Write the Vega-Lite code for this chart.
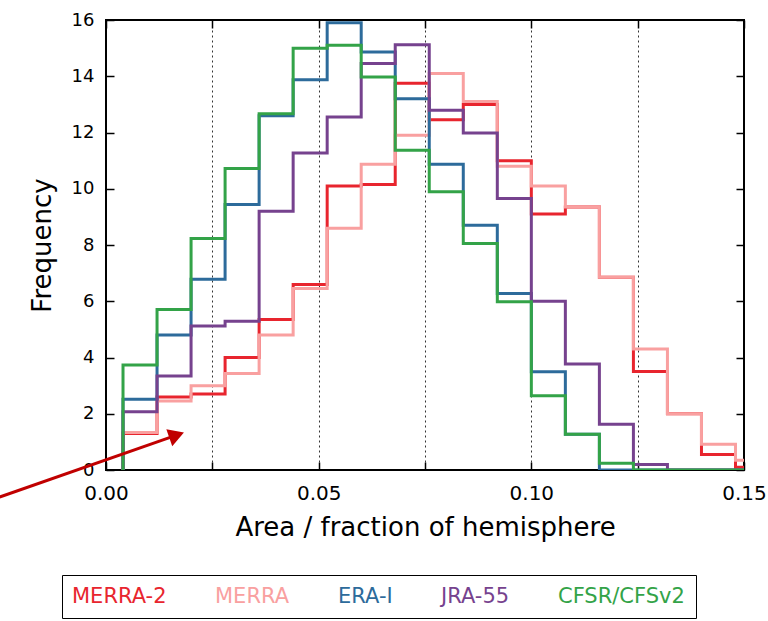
{
  "$schema": "https://vega.github.io/schema/vega-lite/v6.json",
  "autosize": "none",
  "width": 638,
  "height": 450,
  "padding": {"left": 106, "top": 20, "right": 24, "bottom": 151},
  "background": "white",
  "config": {
    "view": {"stroke": "black", "strokeWidth": 2},
    "font": "DejaVu Sans",
    "axis": {"domain": false, "tickColor": "black", "tickWidth": 1.5, "labelColor": "black", "titleColor": "black", "labelFont": "DejaVu Sans", "titleFont": "DejaVu Sans", "titleFontWeight": "normal"}
  },
  "datasets": {
    "hist": [
      {"s":"MERRA-2","k":0,"x":0.004,"y":0},{"s":"MERRA-2","k":1,"x":0.004,"y":1.3},{"s":"MERRA-2","k":2,"x":0.012,"y":2.6},{"s":"MERRA-2","k":3,"x":0.02,"y":2.7},{"s":"MERRA-2","k":4,"x":0.028,"y":4.0},{"s":"MERRA-2","k":5,"x":0.036,"y":5.35},{"s":"MERRA-2","k":6,"x":0.044,"y":6.6},{"s":"MERRA-2","k":7,"x":0.052,"y":10.1},{"s":"MERRA-2","k":8,"x":0.06,"y":10.15},{"s":"MERRA-2","k":9,"x":0.068,"y":13.75},{"s":"MERRA-2","k":10,"x":0.076,"y":12.45},{"s":"MERRA-2","k":11,"x":0.084,"y":13.0},{"s":"MERRA-2","k":12,"x":0.092,"y":11.0},{"s":"MERRA-2","k":13,"x":0.1,"y":9.1},{"s":"MERRA-2","k":14,"x":0.108,"y":9.35},{"s":"MERRA-2","k":15,"x":0.116,"y":6.85},{"s":"MERRA-2","k":16,"x":0.124,"y":3.5},{"s":"MERRA-2","k":17,"x":0.132,"y":2.0},{"s":"MERRA-2","k":18,"x":0.14,"y":0.55},{"s":"MERRA-2","k":19,"x":0.148,"y":0.1},{"s":"MERRA-2","k":20,"x":0.156,"y":0},
      {"s":"MERRA","k":0,"x":0.004,"y":0},{"s":"MERRA","k":1,"x":0.004,"y":1.33},{"s":"MERRA","k":2,"x":0.012,"y":2.45},{"s":"MERRA","k":3,"x":0.02,"y":3.0},{"s":"MERRA","k":4,"x":0.028,"y":3.43},{"s":"MERRA","k":5,"x":0.036,"y":4.8},{"s":"MERRA","k":6,"x":0.044,"y":6.45},{"s":"MERRA","k":7,"x":0.052,"y":8.6},{"s":"MERRA","k":8,"x":0.06,"y":10.87},{"s":"MERRA","k":9,"x":0.068,"y":11.9},{"s":"MERRA","k":10,"x":0.076,"y":14.1},{"s":"MERRA","k":11,"x":0.084,"y":13.1},{"s":"MERRA","k":12,"x":0.092,"y":10.8},{"s":"MERRA","k":13,"x":0.1,"y":10.1},{"s":"MERRA","k":14,"x":0.108,"y":9.35},{"s":"MERRA","k":15,"x":0.116,"y":6.85},{"s":"MERRA","k":16,"x":0.124,"y":4.3},{"s":"MERRA","k":17,"x":0.132,"y":2.0},{"s":"MERRA","k":18,"x":0.14,"y":0.92},{"s":"MERRA","k":19,"x":0.148,"y":0.35},{"s":"MERRA","k":20,"x":0.156,"y":0},
      {"s":"ERA-I","k":0,"x":0.004,"y":0},{"s":"ERA-I","k":1,"x":0.004,"y":2.52},{"s":"ERA-I","k":2,"x":0.012,"y":4.8},{"s":"ERA-I","k":3,"x":0.02,"y":6.78},{"s":"ERA-I","k":4,"x":0.028,"y":9.44},{"s":"ERA-I","k":5,"x":0.036,"y":12.6},{"s":"ERA-I","k":6,"x":0.044,"y":13.88},{"s":"ERA-I","k":7,"x":0.052,"y":15.9},{"s":"ERA-I","k":8,"x":0.06,"y":14.86},{"s":"ERA-I","k":9,"x":0.068,"y":13.2},{"s":"ERA-I","k":10,"x":0.076,"y":10.87},{"s":"ERA-I","k":11,"x":0.084,"y":8.7},{"s":"ERA-I","k":12,"x":0.092,"y":6.28},{"s":"ERA-I","k":13,"x":0.1,"y":3.49},{"s":"ERA-I","k":14,"x":0.108,"y":1.27},{"s":"ERA-I","k":15,"x":0.116,"y":0},{"s":"ERA-I","k":16,"x":0.124,"y":0},{"s":"ERA-I","k":17,"x":0.132,"y":0},{"s":"ERA-I","k":18,"x":0.14,"y":0},{"s":"ERA-I","k":19,"x":0.148,"y":0},{"s":"ERA-I","k":20,"x":0.156,"y":0},
      {"s":"JRA-55","k":0,"x":0.004,"y":0},{"s":"JRA-55","k":1,"x":0.004,"y":2.07},{"s":"JRA-55","k":2,"x":0.012,"y":3.34},{"s":"JRA-55","k":3,"x":0.02,"y":5.12},{"s":"JRA-55","k":4,"x":0.028,"y":5.29},{"s":"JRA-55","k":5,"x":0.036,"y":9.2},{"s":"JRA-55","k":6,"x":0.044,"y":11.27},{"s":"JRA-55","k":7,"x":0.052,"y":12.55},{"s":"JRA-55","k":8,"x":0.06,"y":14.45},{"s":"JRA-55","k":9,"x":0.068,"y":15.12},{"s":"JRA-55","k":10,"x":0.076,"y":12.79},{"s":"JRA-55","k":11,"x":0.084,"y":11.98},{"s":"JRA-55","k":12,"x":0.092,"y":9.65},{"s":"JRA-55","k":13,"x":0.1,"y":6.0},{"s":"JRA-55","k":14,"x":0.108,"y":3.77},{"s":"JRA-55","k":15,"x":0.116,"y":1.63},{"s":"JRA-55","k":16,"x":0.124,"y":0.2},{"s":"JRA-55","k":17,"x":0.132,"y":0},{"s":"JRA-55","k":18,"x":0.14,"y":0},{"s":"JRA-55","k":19,"x":0.148,"y":0},{"s":"JRA-55","k":20,"x":0.156,"y":0},
      {"s":"CFSR/CFSv2","k":0,"x":0.004,"y":0},{"s":"CFSR/CFSv2","k":1,"x":0.004,"y":3.73},{"s":"CFSR/CFSv2","k":2,"x":0.012,"y":5.71},{"s":"CFSR/CFSv2","k":3,"x":0.02,"y":8.23},{"s":"CFSR/CFSv2","k":4,"x":0.028,"y":10.72},{"s":"CFSR/CFSv2","k":5,"x":0.036,"y":12.67},{"s":"CFSR/CFSv2","k":6,"x":0.044,"y":15.0},{"s":"CFSR/CFSv2","k":7,"x":0.052,"y":15.1},{"s":"CFSR/CFSv2","k":8,"x":0.06,"y":13.97},{"s":"CFSR/CFSv2","k":9,"x":0.068,"y":11.37},{"s":"CFSR/CFSv2","k":10,"x":0.076,"y":9.89},{"s":"CFSR/CFSv2","k":11,"x":0.084,"y":8.05},{"s":"CFSR/CFSv2","k":12,"x":0.092,"y":5.98},{"s":"CFSR/CFSv2","k":13,"x":0.1,"y":2.64},{"s":"CFSR/CFSv2","k":14,"x":0.108,"y":1.27},{"s":"CFSR/CFSv2","k":15,"x":0.116,"y":0.24},{"s":"CFSR/CFSv2","k":16,"x":0.124,"y":0},{"s":"CFSR/CFSv2","k":17,"x":0.132,"y":0},{"s":"CFSR/CFSv2","k":18,"x":0.14,"y":0},{"s":"CFSR/CFSv2","k":19,"x":0.148,"y":0},{"s":"CFSR/CFSv2","k":20,"x":0.156,"y":0}
    ],
    "arrow": [{"x": -0.025, "y": -0.96}, {"x": 0.0166, "y": 1.24}],
    "arrowhead": [{"x": 0.0166, "y": 1.24}]
  },
  "layer": [
    {
      "data": {"name": "hist"},
      "mark": {"type": "line", "interpolate": "step-after", "strokeWidth": 3, "clip": true},
      "encoding": {
        "x": {"field": "x", "type": "quantitative", "scale": {"domain": [0, 0.15], "nice": false, "zero": false},
          "axis": {"orient": "bottom", "values": [0, 0.025, 0.05, 0.075, 0.1, 0.125, 0.15],
            "labelExpr": "abs(datum.value*20 - round(datum.value*20)) < 0.01 ? format(datum.value, '.2f') : ''",
            "grid": true, "gridDash": [2, 3], "gridColor": "black", "gridWidth": 1, "gridOpacity": 0.8,
            "tickSize": -8, "labelPadding": 21, "labelFontSize": 20, "labelFlush": false, "labelOverlap": false,
            "title": "Area / fraction of hemisphere", "titleFontSize": 26, "titlePadding": 11}},
        "y": {"field": "y", "type": "quantitative", "scale": {"domain": [0, 16], "nice": false},
          "axis": {"orient": "left", "values": [0, 2, 4, 6, 8, 10, 12, 14, 16], "grid": false,
            "tickSize": -8, "labelPadding": 20, "labelFontSize": 18, "labelOverlap": false,
            "title": "Frequency", "titleFontSize": 26, "titlePadding": 16}},
        "color": {"field": "s", "type": "nominal",
          "scale": {"domain": ["MERRA-2", "MERRA", "ERA-I", "JRA-55", "CFSR/CFSv2"], "range": ["#e8252e", "#f9a0a0", "#2d6b9b", "#76428e", "#33a348"]},
          "legend": {"orient": "none", "legendX": -44, "legendY": 555, "direction": "horizontal", "columns": 5, "columnPadding": 48,
            "title": null, "symbolOpacity": 0, "symbolStrokeWidth": 0, "labelOffset": -22,
            "labelFontSize": 21, "labelFont": "DejaVu Sans", "labelColor": {"expr": "scale('color', datum.value)"}, "labelLimit": 400,
            "padding": 11, "strokeColor": "black", "fillColor": "white", "cornerRadius": 0}},
        "order": {"field": "k", "type": "quantitative"}
      }
    },
    {
      "data": {"name": "arrow"},
      "mark": {"type": "line", "color": "#c00000", "strokeWidth": 3, "clip": false},
      "encoding": {
        "x": {"field": "x", "type": "quantitative", "scale": {"domain": [0, 0.15], "nice": false, "zero": false},
          "axis": {"orient": "top", "values": [0, 0.025, 0.05, 0.075, 0.1, 0.125, 0.15], "labels": false, "title": null, "grid": false, "tickSize": -8}},
        "y": {"field": "y", "type": "quantitative", "scale": {"domain": [0, 16], "nice": false},
          "axis": {"orient": "right", "values": [0, 2, 4, 6, 8, 10, 12, 14, 16], "labels": false, "title": null, "grid": false, "tickSize": -8}}
      }
    },
    {
      "data": {"name": "arrowhead"},
      "mark": {"type": "point", "shape": "triangle-right", "filled": true, "color": "#c00000", "opacity": 1, "size": 320, "angle": 340.7, "clip": false},
      "encoding": {
        "x": {"field": "x", "type": "quantitative", "axis": null},
        "y": {"field": "y", "type": "quantitative", "axis": null}
      }
    }
  ],
  "resolve": {"axis": {"x": "independent", "y": "independent"}}
}
